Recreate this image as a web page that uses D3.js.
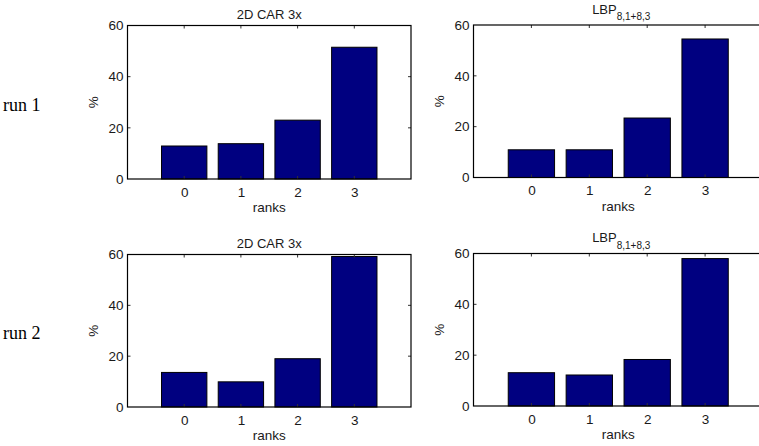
<!DOCTYPE html>
<head>
<meta charset="utf-8">
<style>
body { margin: 0; background: #fff; }
svg { display: block; }
text { font-family: "Liberation Sans", Arial, sans-serif; fill: #1a1a1a; }
.run { font-family: "Liberation Serif", "DejaVu Serif", serif; font-size: 18px; fill: #000; }
.tick text { font-size: 13.5px; fill: #1a1a1a; }
.axlabel { font-size: 13.5px; }
.title { font-size: 13px; }
.bar { fill: #000080; stroke: #000; stroke-width: 1; }
.frame { fill: none; stroke: #000; stroke-width: 1.2; }
</style>
</head>
<body>

<svg width="759" height="446"></svg>
<script src="https://cdn.jsdelivr.net/npm/d3@7"></script>
<script>

var ranks = [0, 1, 2, 3];
var yTicks = [0, 20, 40, 60];

// % per rank
var run1Car = [12.9, 13.8, 23.0, 51.5];
var run1Lbp = [10.9, 10.9, 23.4, 54.5];
var run2Car = [13.6, 9.9, 19.0, 59.2];
var run2Lbp = [13.1, 12.2, 18.3, 58.0];

var runLabels = ["run 1", "run 2"];

var svg = d3.select("svg");

// panel boxes: [left, right, top, bottom]
var panels = [
  {box: [127.5, 411, 25.5, 179], data: run1Car, title: "car"},
  {box: [473.5, 763, 25, 177.5], data: run1Lbp, title: "lbp"},
  {box: [127.5, 411, 254.5, 407], data: run2Car, title: "car"},
  {box: [473.5, 763, 253.5, 406], data: run2Lbp, title: "lbp"}
];

panels.forEach(function(p) {
  var l = p.box[0], r = p.box[1], t = p.box[2], b = p.box[3];
  var x = d3.scaleLinear().domain([-1, 4]).range([l, r]);
  var y = d3.scaleLinear().domain([0, 60]).range([b, t]);
  var unit = x(1) - x(0);
  var g = svg.append("g");

  g.selectAll(".bar")
      .data(ranks)
    .enter().append("rect")
      .attr("class", "bar")
      .attr("x", function(d) { return x(d) - unit * 0.4; })
      .attr("width", unit * 0.8)
      .attr("y", function(d) { return y(p.data[d]); })
      .attr("height", function(d) { return b - y(p.data[d]); });

  // labels from d3 axes, inward ticks drawn by hand (matlab style)
  g.append("g").attr("transform", "translate(0," + b + ")")
      .call(d3.axisBottom(x).tickValues(ranks).tickFormat(d3.format("d")).tickSize(0).tickPadding(8));
  g.append("g").attr("transform", "translate(" + l + ",0)")
      .call(d3.axisLeft(y).tickValues(yTicks).tickFormat(d3.format("d")).tickSize(0).tickPadding(4));
  g.selectAll(".domain").remove();

  var tk = g.append("g").attr("stroke", "#333").attr("stroke-width", 1);
  ranks.forEach(function(d) {
    tk.append("line").attr("x1", x(d)).attr("x2", x(d)).attr("y1", b).attr("y2", b - 3);
    tk.append("line").attr("x1", x(d)).attr("x2", x(d)).attr("y1", t).attr("y2", t + 3);
  });
  yTicks.slice(1, 3).forEach(function(d) {
    tk.append("line").attr("x1", l).attr("x2", l + 3).attr("y1", y(d)).attr("y2", y(d));
    tk.append("line").attr("x1", r).attr("x2", r - 3).attr("y1", y(d)).attr("y2", y(d));
  });

  g.append("rect").attr("class", "frame")
      .attr("x", l).attr("y", t).attr("width", r - l).attr("height", b - t);

  g.append("text").attr("class", "axlabel")
      .attr("x", (l + r) / 2).attr("y", b + 33)
      .attr("text-anchor", "middle").text("ranks");

  g.append("text").attr("class", "axlabel")
      .attr("transform", "translate(" + (l - 30) + "," + ((t + b) / 2) + ") rotate(-90)")
      .attr("text-anchor", "middle").text("%");

  if (p.title === "car") {
    g.append("text").attr("class", "title")
        .attr("x", (l + r) / 2).attr("y", t - 7)
        .attr("text-anchor", "middle").text("2D CAR 3x");
  } else {
    var tt = g.append("text").attr("class", "title")
        .attr("x", (l + r) / 2 + 3).attr("y", t - 11.5)
        .attr("text-anchor", "middle");
    tt.append("tspan").text("LBP");
    tt.append("tspan").attr("dy", 6.5).style("font-size", "10px").text("8,1+8,3");
  }
});

svg.selectAll(".run")
    .data(runLabels)
  .enter().append("text")
    .attr("class", "run")
    .attr("x", 3)
    .attr("y", function(d, i) { return i === 0 ? 111 : 339; })
    .text(function(d) { return d; });

</script>
</body>
